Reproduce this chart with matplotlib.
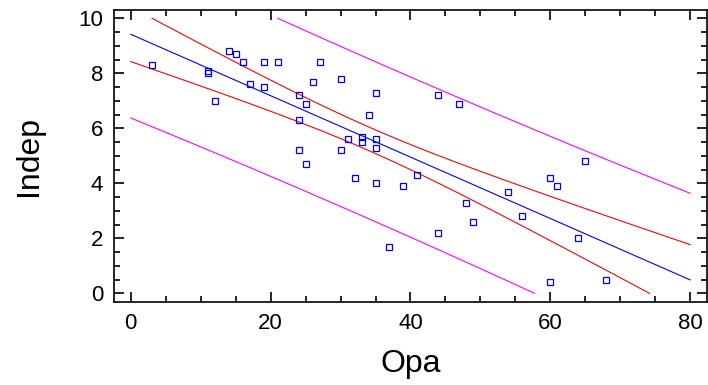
import matplotlib
matplotlib.use("Agg")
import matplotlib.pyplot as plt
from matplotlib.ticker import MultipleLocator
import numpy as np

# ---------------- data ----------------
opa = [3, 11, 11, 12, 14, 15, 16, 17, 19, 19, 21, 24, 24, 25, 26, 27, 30, 35, 34,
       31, 33, 33, 35, 35, 24, 30, 25, 32, 35, 39, 37, 41, 44, 47, 44, 48, 49,
       54, 56, 60, 61, 64, 60, 68, 65]
indep = [8.3, 8.1, 8.0, 7.0, 8.8, 8.7, 8.4, 7.6, 8.4, 7.5, 8.4, 7.2, 6.3, 6.9, 7.7,
         8.4, 7.8, 7.3, 6.5, 5.6, 5.7, 5.5, 5.6, 5.3, 5.2, 5.2, 4.7, 4.2, 4.0, 3.9,
         1.7, 4.3, 7.2, 6.9, 2.2, 3.3, 2.6, 3.7, 2.8, 4.2, 3.9, 2.0, 0.4, 0.5, 4.8]

x = np.array(opa, dtype=float)
y = np.array(indep, dtype=float)

# ---------------- simple regression + 95% limits ----------------
n = len(x)
slope, icpt = np.polyfit(x, y, 1)
resid = y - (icpt + slope * x)
s = np.sqrt(np.sum(resid ** 2) / (n - 2))
sxx = np.sum((x - x.mean()) ** 2)
t = 2.0167  # t(0.975, 43)

xx = np.linspace(0, 80, 2000)
fit = icpt + slope * xx
ci = t * s * np.sqrt(1.0 / n + (xx - x.mean()) ** 2 / sxx)
pi = t * s * np.sqrt(1.0 + 1.0 / n + (xx - x.mean()) ** 2 / sxx)


def clip(v):
    v = v.copy()
    v[(v < 0) | (v > 10)] = np.nan
    return v


plt.rcParams['font.family'] = ['Liberation Sans', 'DejaVu Sans']

fig = plt.figure(figsize=(7.08, 3.85), dpi=100)
ax = fig.add_axes([0.1615, 0.2164, 0.8365, 0.757])

ax.plot(xx, clip(fit), color='#0000ff', lw=0.8)
ax.plot(xx, clip(fit + ci), color='#ff0000', lw=0.8)
ax.plot(xx, clip(fit - ci), color='#ff0000', lw=0.8)
ax.plot(xx, clip(fit + pi), color='#ff00ff', lw=0.8)
ax.plot(xx, clip(fit - pi), color='#ff00ff', lw=0.8)
ax.plot(x, y, ls='none', marker='s', ms=4, mfc='none', mec='#0000ff', mew=0.9)

ax.set_xlim(-2.35, 82.35)
ax.set_ylim(-0.3, 10.29)
ax.xaxis.set_major_locator(MultipleLocator(20))
ax.xaxis.set_minor_locator(MultipleLocator(5))
ax.yaxis.set_major_locator(MultipleLocator(2))
ax.yaxis.set_minor_locator(MultipleLocator(0.5))
ax.tick_params(which='both', direction='in', top=True, right=True, width=1.2,
               labelsize=16, colors='black')
ax.tick_params(which='major', length=7.5, pad=8)
ax.tick_params(which='minor', length=4)
for sp in ax.spines.values():
    sp.set_linewidth(1.2)

ax.set_xlabel('Opa', fontsize=23)
ax.set_ylabel('Indep', fontsize=23)
ax.xaxis.set_label_coords(0.5, -0.162)
ax.yaxis.set_label_coords(-0.144, 0.5)
ax.yaxis.label.set_va('center')

fig.savefig('out.png', dpi=100)
